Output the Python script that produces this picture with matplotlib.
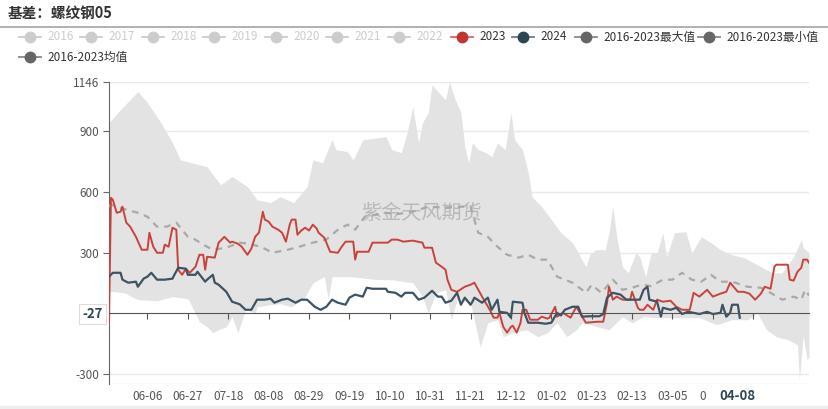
import numpy as np
import pandas as pd
import matplotlib
matplotlib.use('Agg')
import matplotlib.pyplot as plt
from matplotlib.lines import Line2D

plt.rcParams['font.family'] = ['Noto Sans CJK SC', 'DejaVu Sans']

# ---------------- data ----------------
categories = [d.strftime('%m-%d') for d in pd.date_range('2023-05-17', '2024-05-15')]

max_days = [0, 6, 15, 20, 27, 33, 37, 43, 51, 58, 64, 72, 77, 84, 89, 96, 103, 106, 111, 116,
            118, 124, 127, 132, 144, 147, 152, 155, 158, 161, 163, 166, 168, 171, 175, 177, 180, 183, 185, 187,
            189, 192, 196, 199, 202, 206, 209, 211, 215, 218, 220, 225, 230, 235, 241, 244, 248, 250, 253, 258,
            260, 262, 264, 267, 270, 274, 276, 279, 282, 285, 288, 290, 294, 300, 303, 308, 313, 318, 324, 330,
            339, 345, 350, 356, 360, 361, 364]
max_vals = [943, 1008, 1097, 1042, 943, 844, 760, 745, 726, 637, 677, 627, 562, 548, 577, 548, 627, 760, 745, 859,
            810, 800, 760, 859, 874, 810, 795, 894, 1023, 844, 943, 993, 1131, 1097, 1057, 1146, 1057, 993, 825, 745,
            844, 810, 795, 775, 844, 810, 993, 859, 810, 696, 577, 528, 464, 399, 350, 300, 231, 290, 315, 315,
            399, 528, 379, 231, 201, 300, 280, 182, 300, 300, 399, 280, 399, 404, 300, 379, 350, 315, 290, 276,
            231, 201, 201, 280, 365, 325, 300]

min_days = [0, 8, 15, 25, 33, 41, 44, 47, 51, 54, 57, 61, 64, 67, 71, 76, 77, 84, 89, 95,
            102, 106, 112, 114, 116, 125, 140, 147, 158, 163, 166, 170, 175, 178, 181, 188, 193, 197, 202, 205,
            210, 217, 223, 228, 233, 238, 243, 246, 254, 260, 267, 272, 278, 285, 292, 300, 307, 316, 324, 332,
            337, 342, 347, 353, 358, 359, 361, 363, 364]
min_vals = [110, 102, 68, 63, 83, 73, 18, -41, -66, -95, -80, -66, -16, -95, 18, 3, 33, 43, 48, 33,
            83, 151, 182, 68, 182, 182, 167, 167, 152, 83, 3, 102, 117, -31, 68, 53, -165, -46, -31, -115,
            -95, -81, -115, -95, -46, -115, -81, -46, -66, -81, -16, -46, -16, -21, -21, -21, -21, -56, -31, -31,
            3, -81, -115, -130, -155, -328, -110, -229, -214]

mean_days = [0, 1, 9, 15, 20, 25, 30, 35, 41, 44, 49, 54, 61, 68, 72, 79, 85, 93, 99, 106,
             113, 119, 124, 128, 133, 144, 149, 158, 166, 175, 184, 188, 192, 197, 202, 207, 213, 218, 223, 228,
             233, 241, 246, 248, 251, 256, 262, 267, 272, 277, 282, 288, 293, 298, 303, 308, 313, 318, 324, 332,
             339, 344, 350, 356, 360, 362, 364]
mean_vals = [528, 538, 513, 498, 478, 429, 429, 449, 379, 370, 340, 315, 325, 350, 345, 330, 300, 315, 330, 350,
             365, 414, 439, 414, 478, 498, 490, 503, 528, 523, 528, 528, 399, 379, 330, 290, 276, 290, 266, 266,
             182, 152, 117, 102, 142, 102, 167, 117, 127, 142, 135, 167, 167, 201, 167, 157, 191, 157, 157, 132,
             127, 102, 68, 83, 68, 117, 88]

y2023_days = [0, 1, 2, 4, 6, 7, 9, 11, 14, 17, 20, 21, 23, 25, 28, 29, 31, 33, 35, 36,
              38, 40, 42, 45, 47, 49, 50, 51, 55, 57, 60, 63, 64, 67, 69, 72, 74, 76, 78, 80,
              81, 83, 85, 88, 90, 92, 94, 95, 97, 98, 100, 102, 104, 106, 108, 109, 112, 115, 119, 121,
              123, 127, 128, 129, 135, 137, 145, 147, 150, 153, 158, 163, 164, 168, 170, 173, 175, 176, 178, 181,
              185, 188, 190, 192, 194, 198, 200, 202, 203, 205, 207, 209, 210, 212, 214, 215, 217, 219, 223, 225,
              228, 229, 232, 233, 236, 240, 243, 246, 248, 254, 257, 259, 260, 262, 264, 267, 271, 272, 275, 276,
              278, 280, 283, 285, 288, 292, 295, 298, 302, 304, 307, 311, 314, 318, 321, 323, 327, 330, 333, 336,
              339, 341, 344, 346, 347, 353, 354, 356, 358, 360, 361, 363, 364]
y2023_vals = [-46, 572, 562, 498, 503, 528, 449, 429, 379, 315, 315, 399, 330, 300, 300, 340, 330, 424, 414, 216,
              191, 221, 201, 231, 290, 290, 216, 280, 276, 350, 379, 350, 355, 345, 330, 290, 320, 379, 400, 503,
              464, 454, 429, 414, 399, 355, 440, 464, 464, 389, 410, 424, 410, 439, 420, 399, 374, 305, 300, 330,
              355, 355, 266, 305, 305, 350, 350, 365, 365, 355, 360, 350, 325, 325, 251, 231, 216, 167, 117, 107,
              132, 142, 152, 117, 83, 18, -21, -21, 3, -66, -95, -66, -61, -95, -46, 18, 18, -31, -31, -16,
              -26, -21, 33, -16, 3, -21, 33, -16, -46, -41, -41, 53, 132, 68, 83, 68, 68, 107, 28, 18,
              18, 43, 18, 68, 58, 63, 33, 18, 18, 102, 83, 117, 83, 98, 107, 152, 107, 107, 98, 68,
              98, 132, 122, 231, 241, 241, 167, 162, 206, 226, 266, 266, 251]

y2024_days = [0, 2, 6, 7, 10, 14, 15, 18, 20, 22, 25, 29, 33, 34, 36, 40, 41, 45, 46, 50,
              51, 54, 55, 57, 61, 64, 68, 71, 74, 77, 81, 84, 86, 90, 93, 97, 100, 103, 107, 110,
              113, 116, 119, 123, 125, 128, 132, 134, 137, 144, 145, 149, 152, 154, 158, 161, 164, 168, 171, 173,
              175, 178, 181, 183, 185, 188, 189, 190, 194, 197, 199, 202, 203, 207, 209, 210, 215, 216, 218, 223,
              227, 230, 233, 235, 237, 241, 244, 246, 250, 255, 257, 259, 262, 266, 269, 276, 278, 280, 281, 285,
              287, 288, 292, 295, 298, 301, 304, 307, 311, 314, 318, 319, 321, 323, 324, 327, 328]
y2024_vals = [182, 201, 201, 167, 152, 157, 132, 172, 182, 201, 167, 167, 172, 191, 226, 221, 191, 191, 206, 157,
              167, 191, 152, 142, 107, 58, 45, 18, 18, 68, 68, 73, 53, 68, 73, 53, 68, 68, 33, 18,
              33, 68, 53, 43, 78, 93, 83, 127, 122, 122, 107, 102, 83, 102, 102, 68, 78, 112, 83, 83,
              53, 63, 102, 43, 78, 43, 58, 78, 53, 78, 18, 68, 8, 3, -21, 58, 53, 3, -46, -46,
              -51, -46, 3, -10, 18, 33, 33, -16, -14, -14, -3, 78, 102, 93, 68, 68, 117, 132, 68, 58,
              -16, 28, 18, 28, -3, 8, 3, -3, 8, -3, 3, 43, -16, 3, 43, 43, -21]

y_ticks = [1146, 900, 600, 300, -300]
y_min, y_max = -349, 1146
x_tick_idx = list(range(20, 336, 21))
pointer_idx = 327          # hovered category (04-08)
pointer_value = '-27'

legend_labels = ['2016', '2017', '2018', '2019', '2020', '2021', '2022', '2023', '2024',
                 '2016-2023最大值', '2016-2023最小值', '2016-2023均值']

# ---------------- figure ----------------
W, H = 829, 409
fig = plt.figure(figsize=(W / 100, H / 100), dpi=100)
L, R, T, B = 109, 809, 81.7, 384
ax = fig.add_axes([L / W, 1 - B / H, (R - L) / W, (B - T) / H])

x = np.arange(len(categories))
mx = pd.Series(max_vals, index=max_days).reindex(x).interpolate().values
mn = pd.Series(min_vals, index=min_days).reindex(x).interpolate().values

ax.fill_between(x, mn, mx, color='#e3e3e3', lw=0, zorder=1)
for yv in y_ticks + [y_min]:
    ax.axhline(yv, color='#e9e9e9', lw=1, zorder=0.5)

mline, = ax.plot(mean_days, mean_vals, color='#a9a9a9', lw=1.6, zorder=3)
mline.set_dashes((3, 2.6))
ax.plot(y2023_days, y2023_vals, color='#c9433d', lw=1.4, zorder=4)
ax.plot(y2024_days, y2024_vals, color='#3d5363', lw=1.6, zorder=5)

ax.set_xlim(0, len(categories) - 1)
ax.set_ylim(y_min, y_max)

for s in ['top', 'right']:
    ax.spines[s].set_visible(False)
ax.spines['left'].set_color('#666666')
ax.spines['bottom'].set_position(('data', 0))
ax.spines['bottom'].set_color('#555555')
ax.spines['bottom'].set_zorder(6)

ax.set_yticks(y_ticks)
ax.set_yticklabels([str(v) for v in y_ticks])
ax.tick_params(axis='y', length=4, color='#666666', labelcolor='#555555', labelsize=8.5, pad=3)
ax.set_xticks(x_tick_idx)
ax.tick_params(axis='x', length=4, color='#555555', labelbottom=False)

xtr = ax.get_xaxis_transform()
for i in x_tick_idx:
    lab = categories[i]
    if abs(i - pointer_idx) < 15:
        # partially hidden under the pointer label in the reference
        if i < pointer_idx:
            ax.text(i - 5.5, -0.04, lab[0], transform=xtr, ha='center', va='center',
                    fontsize=8.5, color='#555555', clip_on=False)
        continue
    ax.text(i, -0.04, lab, transform=xtr, ha='center', va='center',
            fontsize=8.5, color='#555555', clip_on=False)

# axis pointer labels
ax.text(pointer_idx, -0.04, categories[pointer_idx], transform=xtr, ha='center', va='center',
        fontsize=9.5, fontweight='bold', color='#2f4554', clip_on=False, zorder=10)
fig.text(103 / W, 1 - 314 / H, pointer_value, ha='right', va='center', fontsize=9.5,
         fontweight='bold', color='#2f4554',
         bbox=dict(boxstyle='square,pad=0.25', fc='white', ec='#dddddd', lw=0.8))

# watermark
ax.text(0.447, 0.565, '紫金天风期货', transform=ax.transAxes, ha='center', va='center',
        fontsize=14.5, color='#a8a8a8', alpha=0.7, zorder=2)

# title
fig.text(8 / W, 1 - 13 / H, '基差：螺纹钢05', ha='left', va='center', fontsize=10.5,
         fontweight='bold', color='#333333')
fig.add_artist(Line2D([0, 1], [1 - 27 / H] * 2, color='#aaaaaa', lw=1.3))
fig.add_artist(Line2D([0, 1], [1 - 406.5 / H] * 2, color='#eeeeee', lw=2.5))

# legend
leg_pos = [(30, 37), (91, 37), (153, 37), (214, 37), (276, 37), (337, 37), (399, 37),
           (462, 37), (523, 37), (586, 37), (709, 37), (30, 57)]
leg_icon = ['#cccccc'] * 7 + ['#c23531', '#2f4554', '#666666', '#666666', '#666666']
leg_line = ['#cccccc'] * 7 + ['#d36a66', '#6d7d88', '#888888', '#888888', '#888888']
leg_text = ['#cccccc'] * 7 + ['#333333'] * 5
for lab, (cx, cy), ic, lc, tc in zip(legend_labels, leg_pos, leg_icon, leg_line, leg_text):
    yy = 1 - cy / H
    fig.add_artist(Line2D([(cx - 11) / W, (cx + 11) / W], [yy, yy], color=lc, lw=1.3))
    fig.add_artist(Line2D([cx / W], [yy], marker='o', markersize=7.5, color=ic,
                          markeredgecolor=ic, lw=0))
    fig.text((cx + 17) / W, yy, lab, ha='left', va='center', fontsize=8.5, color=tc)

fig.savefig('out.png', dpi=100)
